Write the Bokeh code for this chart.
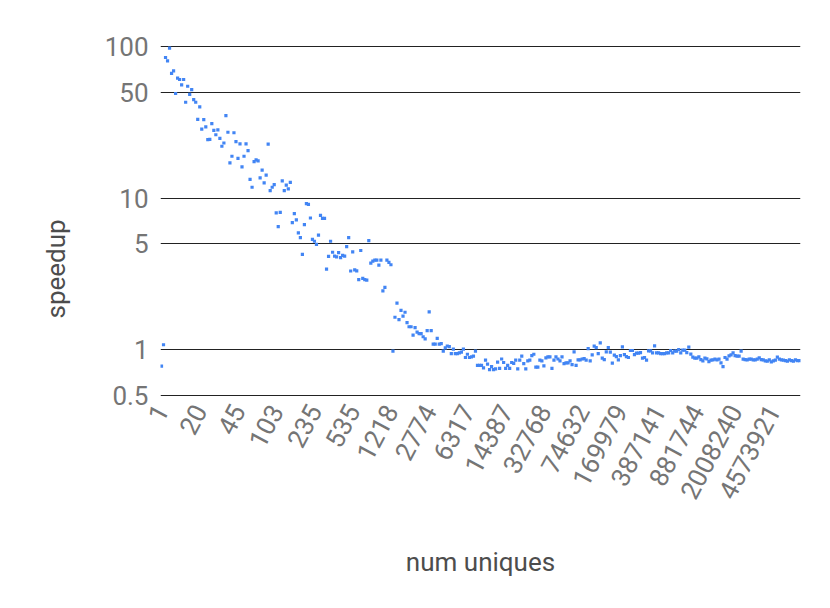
import math
from bokeh.plotting import figure
from bokeh.models import Range1d, FixedTicker, CustomJSTickFormatter, Title, ColumnDataSource
from bokeh.embed import file_html
from bokeh.resources import INLINE

# ---- data ----
tick_labels = ["1", "20", "45", "103", "235", "535", "1218", "2774", "6317", "14387",
               "32768", "74632", "169979", "387141", "881744", "2008240", "4573921"]
tick_step = 19

speedup_part1 = [
    0.78, 1.08, 84.6, 80.5, 97.5, 66.4, 69, 49, 61.8, 60.6,
    55.9, 60.6, 42.9, 54.7, 48.4, 52, 44.7, 42.9, 33.1, 40,
    28.5, 33, 29.5, 24.3, 24.4, 31, 28, 26.2, 28.2, 24.8,
    22, 23.1, 35, 27.2, 17.1, 18.9, 27, 23.6, 18.3, 22.8,
    16.1, 18.9, 22.8, 20.6, 13.3, 11.8, 17.4, 17.9, 17.6, 13.6,
    15.3, 12.6, 14.2, 22.7, 11.2, 11.8, 12.3, 8.0, 6.5, 8.05,
    13.0, 11.2, 12.2, 11.5, 12.7, 6.9, 7.9, 7.2, 5.9, 5.5,
    4.26, 6.7, 9.2, 9.1, 7.4, 5.35, 5.2, 4.96, 5.7, 7.7,
    7.35, 7.35, 3.41, 4.13, 5.2, 4.4, 4.15, 4.1, 4.37, 4.05,
    4.2, 4.15, 4.79, 5.5, 3.31, 4.43, 3.37, 3.32, 2.9, 4.52,
    2.96, 2.9, 2.88, 5.25, 3.73, 3.85, 3.9, 3.9, 3.62, 3.9,
    2.45, 2.58, 3.9, 3.77, 3.64, 0.98, 1.64, 2.03, 1.58, 1.82,
    1.67, 1.77, 1.51, 1.42, 1.42, 1.25, 1.40, 1.31, 1.28, 1.28,
    1.22, 1.18, 1.34, 1.78, 1.34, 1.09, 1.09, 1.19, 1.09, 1.1,
    0.98, 1.03, 1.06, 1.05, 0.945, 1.01, 0.945, 0.945, 0.955, 0.965,
    1.01, 0.89, 0.935, 0.89, 0.9, 0.91, 0.98, 0.79, 0.79, 0.79,
    0.76, 0.855, 0.805, 0.74, 0.775, 0.74, 0.75, 0.83, 0.755, 0.87,
    0.825, 0.755, 0.79, 0.755, 0.825, 0.815, 0.855, 0.75, 0.855, 0.91,
    0.81, 0.75, 0.845, 0.855, 0.915, 0.935, 0.77, 0.77, 0.855, 0.845,
    0.785, 0.885, 0.9, 0.9, 0.755, 0.855, 0.9, 0.87, 0.845, 0.9,
    0.81, 0.82, 0.82, 0.845, 0.8, 0.97, 0.79, 0.86, 0.86, 0.87,
]
speedup_part2 = [
    0.876, 0.855, 1.02, 0.846, 0.927, 1.058, 1.035, 0.945, 1.11, 0.881,
    0.863, 0.97, 1.035, 0.966, 0.817, 0.923, 0.903, 0.859, 0.917, 1.047,
    0.931, 0.903, 0.89, 0.99, 0.99, 0.931, 0.951, 0.951, 0.96, 0.881,
    0.89, 0.855, 0.985, 0.985, 0.955, 1.063, 0.955, 0.955, 0.945, 0.945,
    0.945, 0.955, 0.955, 0.99, 0.955, 0.98, 0.98, 1.005, 0.955, 0.995,
    0.995, 0.96, 1.042, 0.937, 0.895, 0.881, 0.881, 0.899, 0.863, 0.846,
    0.881, 0.872, 0.837, 0.855, 0.859, 0.868, 0.859, 0.868, 0.821, 0.776,
    0.89, 0.868, 0.913, 0.927, 0.955, 0.917, 0.909, 0.909, 0.98, 0.868,
    0.863, 0.859,
]
speedup_part3 = [
    0.868, 0.868, 0.859, 0.859, 0.868, 0.885, 0.863, 0.859, 0.846, 0.842,
    0.859, 0.833, 0.846, 0.855, 0.895, 0.868, 0.859, 0.855, 0.85, 0.842,
    0.859, 0.85, 0.842, 0.859, 0.85, 0.85,
]
y_ticks = [0.5, 1, 5, 10, 50, 100]

speedup = speedup_part1 + speedup_part2 + speedup_part3
idx = list(range(len(speedup)))
n = len(speedup)

src = ColumnDataSource(dict(x=idx, y=speedup))

# one pixel of padding (in log space) so the 0.5 and 100 lines are not clipped
pad = 10 ** (1.0 / 151.67)

p = figure(output_backend="svg", toolbar_location=None,
           frame_width=640, frame_height=351,
           min_border_left=160, min_border_right=22,
           min_border_top=45, min_border_bottom=204,
           y_axis_type="log",
           x_range=Range1d(-0.5, n - 0.5),
           y_range=Range1d(min(y_ticks) / pad, max(y_ticks) * pad))
p.outline_line_color = None
p.background_fill_color = "white"
p.border_fill_color = "white"

p.scatter("x", "y", source=src, marker="square", size=3.2,
          fill_color="#4285f4", line_color=None)

tick_idx = [i * tick_step for i in range(len(tick_labels))]
p.xaxis.ticker = FixedTicker(ticks=tick_idx)
p.xaxis.major_label_overrides = {t: s for t, s in zip(tick_idx, tick_labels)}
p.xaxis.major_label_orientation = math.radians(62)

p.yaxis.ticker = FixedTicker(ticks=y_ticks)
p.yaxis.formatter = CustomJSTickFormatter(code="return tick.toString()")

for ax in (p.xaxis, p.yaxis):
    ax.axis_line_color = None
    ax.major_tick_line_color = None
    ax.minor_tick_line_color = None
    ax.major_tick_out = 0
    ax.major_tick_in = 0
    ax.major_label_text_font = "Roboto"
    ax.major_label_text_font_size = "26px"
    ax.major_label_text_color = "#757575"
p.yaxis.major_label_standoff = 12
p.xaxis.major_label_standoff = 10

p.xgrid.visible = False
p.ygrid.ticker = FixedTicker(ticks=y_ticks)
p.ygrid.grid_line_color = "#222222"
p.ygrid.grid_line_width = 1

# axis titles
p.xaxis.axis_label = "num uniques"
p.xaxis.axis_label_text_font = "Roboto"
p.xaxis.axis_label_text_font_size = "26px"
p.xaxis.axis_label_text_font_style = "normal"
p.xaxis.axis_label_text_color = "#4d4d4d"
p.xaxis.axis_label_standoff = 38

p.add_layout(Title(text="speedup", align="left", offset=78, standoff=61,
                   text_font="Roboto", text_font_size="26px",
                   text_font_style="normal", text_color="#4d4d4d"), "left")

open("out.html", "w").write(file_html(p, INLINE))
